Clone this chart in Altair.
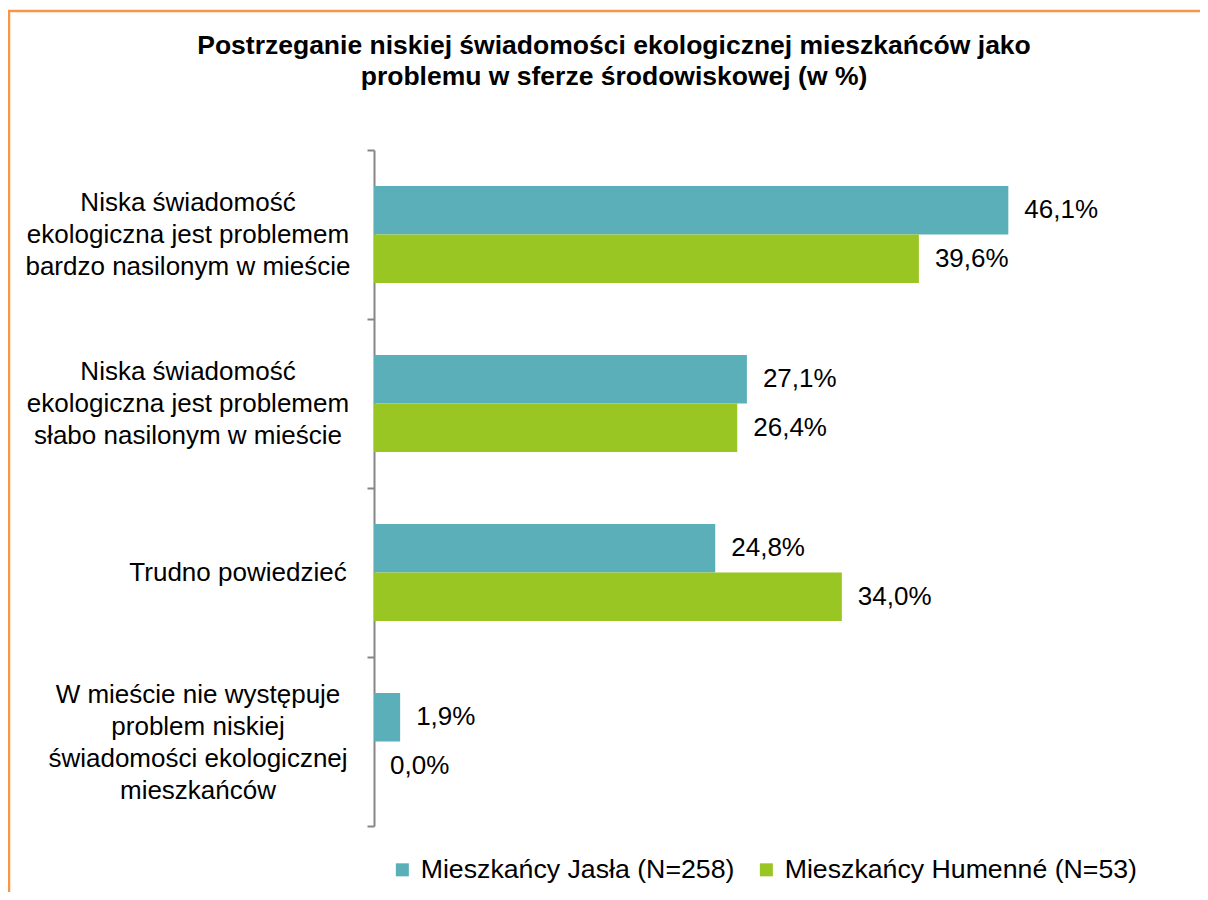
import altair as alt
import pandas as pd

title_lines = ["Postrzeganie niskiej świadomości ekologicznej mieszkańców jako",
               "problemu w sferze środowiskowej (w %)"]
series = ["Mieszkańcy Jasła (N=258)", "Mieszkańcy Humenné (N=53)"]
categories = [
    "Niska świadomość|ekologiczna jest problemem|bardzo nasilonym w mieście",
    "Niska świadomość|ekologiczna jest problemem|słabo nasilonym w mieście",
    "Trudno powiedzieć",
    "W mieście nie występuje|problem niskiej|świadomości ekologicznej|mieszkańców",
]
jasla = [46.1, 27.1, 24.8, 1.9]
humenne = [39.6, 26.4, 34.0, 0.0]
colors = ["#5AAFB8", "#9AC624"]

rows = []
for c, a, b in zip(categories, jasla, humenne):
    for s, v in zip(series, [a, b]):
        rows.append({"cat": c, "series": s, "value": v,
                     "label": f"{v:.1f}".replace(".", ",") + "%"})
df = pd.DataFrame(rows)
cat_df = pd.DataFrame({"cat": categories})

FONT = "Liberation Sans"
# nudges of each category label block (styling only)
label_dx = [0, 0, 50, 10]
label_dy = [-32, -32, 0, -47]

yenc = alt.Y("cat:N", sort=categories, title=None,
             scale=alt.Scale(paddingInner=0, paddingOuter=0),
             axis=alt.Axis(labels=False, domainColor="#868686", domainWidth=2,
                           tickColor="#868686", tickWidth=2, tickSize=7,
                           tickBand="extent", grid=False))

base = alt.Chart(df).encode(
    y=yenc,
    yOffset=alt.YOffset("series:N", sort=series,
                        scale=alt.Scale(paddingOuter=0.742, paddingInner=0)),
)

bars = base.mark_bar().encode(
    x=alt.X("value:Q", scale=alt.Scale(domain=[0, 50]), axis=None),
    color=alt.Color("series:N", sort=series,
                    scale=alt.Scale(domain=series, range=colors),
                    legend=alt.Legend(title=None, orient="none", legendX=15, legendY=706,
                                      direction="horizontal", symbolType="square",
                                      symbolSize=169, symbolStrokeWidth=0,
                                      labelFontSize=26.7, labelFont=FONT, labelColor="#000000",
                                      labelOffset=5, columnPadding=18, padding=0,
                                      labelLimit=600)),
)

texts = base.mark_text(align="left", baseline="middle", dx=16, fontSize=26,
                       font=FONT, color="#000000").encode(
    x=alt.X("value:Q"),
    text="label:N",
)

cat_layers = []
for c, ddx, ddy in zip(categories, label_dx, label_dy):
    cat_layers.append(
        alt.Chart(cat_df).transform_filter(alt.datum.cat == c)
        .mark_text(align="center", baseline="middle", lineBreak="|", fontSize=26,
                   lineHeight=32, font=FONT, color="#000000", dx=ddx, dy=ddy)
        .encode(y=alt.Y("cat:N", sort=categories), x=alt.value(-186), text="cat:N")
    )

border_data = alt.Data(values=[{"k": 1}])
left_border = alt.Chart(border_data).mark_rule(color="#F79646", strokeWidth=2.5).encode(
    x=alt.value(-365), y=alt.value(-140), y2=alt.value(760))
top_border = alt.Chart(border_data).mark_rule(color="#F79646", strokeWidth=2.5).encode(
    y=alt.value(-139), x=alt.value(-366), x2=alt.value(900))

chart = alt.layer(bars, texts, *cat_layers, left_border, top_border).properties(
    width=688, height=676,
    autosize=alt.AutoSizeParams(type="none"),
    padding={"left": 366, "top": 142, "right": 138, "bottom": 66},
    title=alt.TitleParams(text=title_lines, fontSize=26.5, fontWeight="bold", font=FONT,
                          color="#000000", anchor="middle", dx=-104, offset=-82,
                          lineHeight=31),
).configure_view(strokeWidth=0)

chart.save("out.html", embed_options={"renderer": "svg", "actions": False})
